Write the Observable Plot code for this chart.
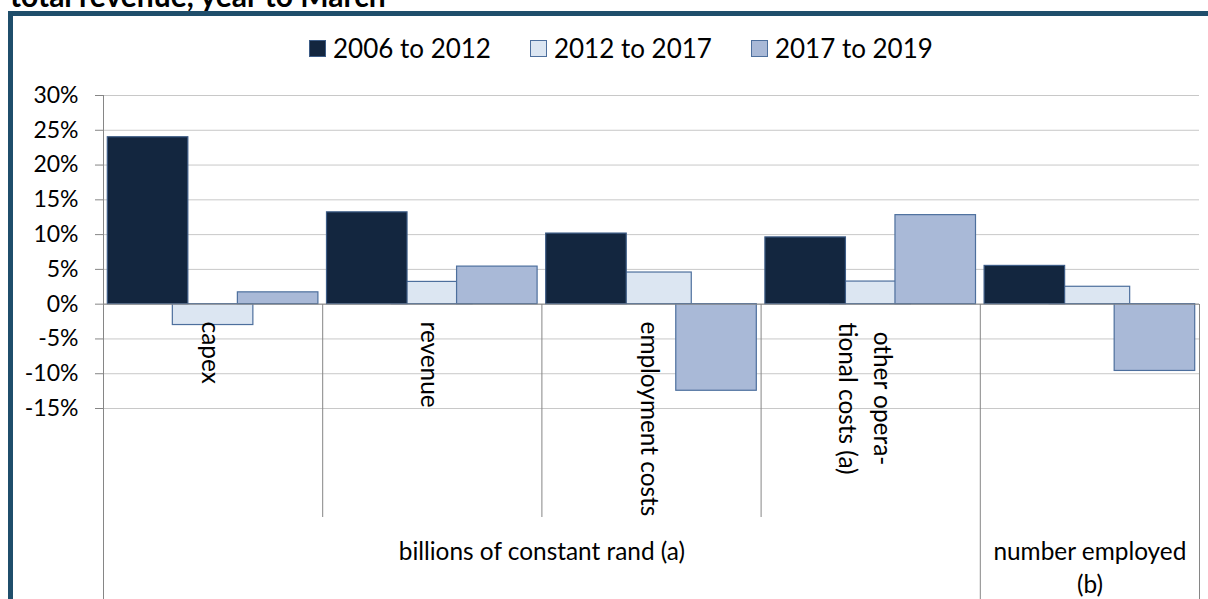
<!DOCTYPE html>
<html><head><meta charset="utf-8">
<script src="https://cdn.jsdelivr.net/npm/d3@7"></script>
<script src="https://cdn.jsdelivr.net/npm/@observablehq/plot@0.6"></script>
<style>
html,body{margin:0;padding:0;background:#fff;}
body{width:1208px;height:599px;overflow:hidden;position:relative;font-family:Lato,sans-serif;color:#000;}
#title{position:absolute;left:10px;top:-20px;font-weight:bold;font-size:30px;line-height:30px;white-space:nowrap;}
#frame{position:absolute;left:8px;top:11px;width:1300px;height:700px;border:5px solid #1f4e6b;box-sizing:border-box;}
#legend{position:absolute;left:309px;top:33px;height:30px;display:flex;align-items:center;font-size:26px;white-space:nowrap;}
.item{display:flex;align-items:center;margin-right:39px;}
.sw{width:17px;height:17px;box-sizing:border-box;border:1px solid;margin-right:7px;}
#chart{position:absolute;left:0;top:70px;}
</style></head><body>
<div id="title">total revenue, year to March</div>
<div id="frame"></div>
<div id="legend"></div>
<div id="chart"></div>
<script>
const categories = ["capex", "revenue", "employment costs", "other opera-\ntional costs (a)", ""];
const groups = [
  {label: "billions of constant rand (a)", from: 0, to: 4},
  {label: "number employed\n(b)", from: 4, to: 5}
];
const seriesNames = ["2006 to 2012", "2012 to 2017", "2017 to 2019"];
const s2006_2012 = [24.0, 13.2, 10.15, 9.6, 5.5];
const s2012_2017 = [-3.0, 3.2, 4.55, 3.25, 2.5];
const s2017_2019 = [1.7, 5.4, -12.45, 12.8, -9.6];
const yTicks = [-15, -10, -5, 0, 5, 10, 15, 20, 25, 30];

const fills = ["#13263f", "#dce6f2", "#a9b9d7"];
const strokes = ["#3d5c86", "#4d6f9d", "#4d6f9d"];
const seriesValues = [s2006_2012, s2012_2017, s2017_2019];

// bar layout within a category (fractions of category width)
const off0 = 0.0196, step = 0.2967, bw = 0.3674;
const drawOrder = [1, 0, 2];
const rows = [];
for (const s of drawOrder) {
  seriesValues[s].forEach((v, i) => {
    rows.push({s, i, value: v, x1: i + off0 + s * step, x2: i + off0 + s * step + bw});
  });
}

const catRows = categories.map((label, i) => ({label, i})).filter(d => d.label);
const singleRows = catRows.filter(d => !d.label.includes("\n"));
const multiRows = catRows.filter(d => d.label.includes("\n"));

const groupStarts = new Set(groups.map(g => g.from));
const innerDividers = d3.range(1, categories.length).filter(i => !groupStarts.has(i));
const groupDividers = groups.slice(1).map(g => g.from).concat([groups[groups.length - 1].to]);

const FS = 24.4;
const chart = Plot.plot({
  width: 1208,
  height: 550,
  marginLeft: 103,
  marginRight: 9,
  marginTop: 25,
  marginBottom: 0,
  x: {domain: [0, categories.length], axis: null},
  y: {domain: [-15, 30], range: [338, 25], axis: null},
  style: {fontFamily: "Lato, sans-serif", background: "transparent", color: "#000"},
  marks: [
    Plot.gridY(yTicks, {stroke: "#c8c8c8", strokeOpacity: 1}),
    Plot.axisY(yTicks, {label: null, tickFormat: d => d + "%", tickSize: 8, tickPadding: 17, fontSize: 23, stroke: "#868686", fill: "#000"}),
    Plot.ruleX([0], {stroke: "#868686"}),
    Plot.ruleX(innerDividers, {stroke: "#868686", insetTop: 209, insetBottom: 103}),
    Plot.ruleX(groupDividers, {stroke: "#868686", insetTop: 209}),
    Plot.rect(rows, {
      x1: "x1", x2: "x2", y1: 0, y2: "value",
      fill: d => fills[d.s], stroke: d => strokes[d.s], strokeWidth: 1.2
    }),
    Plot.ruleY([0], {stroke: "#868686"}),
    Plot.text(singleRows, {x: d => d.i + 0.5, text: "label", frameAnchor: "top", lineAnchor: "middle", dy: 226, dx: -3, rotate: 90, textAnchor: "start", fontSize: FS, fill: "#000"}),
    Plot.text(multiRows, {x: d => d.i + 0.5, text: "label", frameAnchor: "top", lineAnchor: "middle", dy: 303, dx: -3, rotate: 90, textAnchor: "middle", lineHeight: 1.42, fontSize: FS, fill: "#000"}),
    Plot.text(groups, {x: d => (d.from + d.to) / 2, text: "label", frameAnchor: "top", lineAnchor: "top", dy: 441, lineHeight: 1.36, fontSize: FS, fill: "#000"})
  ]
});
document.getElementById("chart").appendChild(chart);

const legend = document.getElementById("legend");
seriesNames.forEach((name, s) => {
  const item = document.createElement("div");
  item.className = "item";
  const sw = document.createElement("span");
  sw.className = "sw";
  sw.style.background = fills[s];
  sw.style.borderColor = strokes[s];
  const t = document.createElement("span");
  t.textContent = name;
  item.appendChild(sw);
  item.appendChild(t);
  legend.appendChild(item);
});
</script>
</body></html>
